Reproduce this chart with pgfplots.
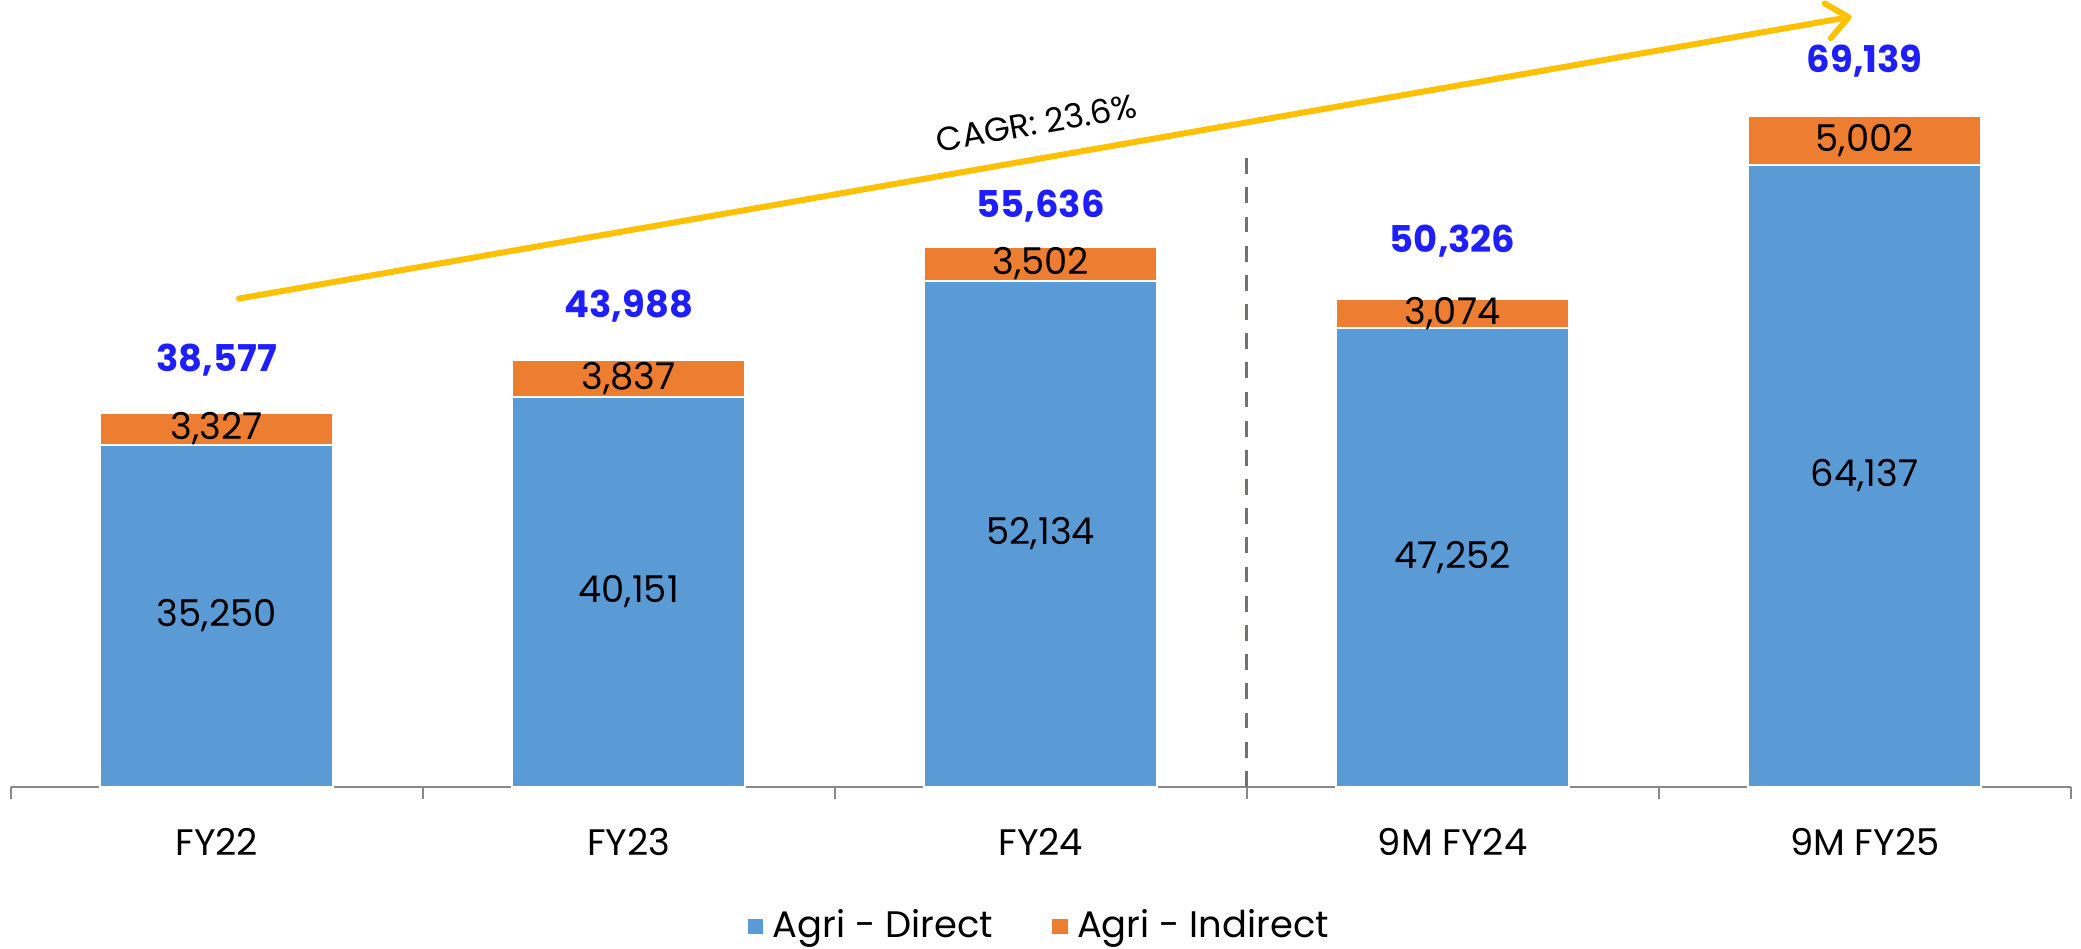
\documentclass[border=0pt]{standalone}
\usepackage{pgfplots}
\pgfplotsset{compat=1.18}
\usepackage{pgfplotstable}
\usepackage{fontspec}
\setmainfont{Poppins}
\usetikzlibrary{arrows.meta}

\definecolor{direct}{RGB}{91,155,213}
\definecolor{indirect}{RGB}{237,125,49}
\definecolor{arrowc}{RGB}{255,192,0}
\definecolor{totblue}{RGB}{30,30,255}
\definecolor{dashgray}{RGB}{118,113,113}
\definecolor{axisgray}{RGB}{137,137,137}

\pgfplotstableread{
x direct indirect
0 35250 3327
1 40151 3837
2 52134 3502
3 47252 3074
4 64137 5002
}\agri

\newcommand{\lblfont}{\fontsize{10.5}{12}\selectfont}

\begin{document}
\begin{tikzpicture}[font=\lblfont]
\begin{axis}[
  scale only axis,
  width=20.6cm, height=7.857cm,
  ybar stacked,
  bar width=2.33cm,
  xmin=-0.5, xmax=4.5,
  ymin=0, ymax=81000,
  axis x line*=bottom,
  axis y line=none,
  x axis line style={draw=axisgray, line width=0.6pt},
  xtick={0,...,4},
  xticklabels={FY22,FY23,FY24,9M FY24,9M FY25},
  major x tick style={draw=none},
  minor xtick={-0.5,0.5,1.5,2.5,3.5,4.5},
  minor x tick style={axisgray, line width=0.6pt},
  minor tick length=0.12cm,
  tick align=outside,
  xticklabel style={font=\lblfont, yshift=-4pt},
  /pgf/number format/assume math mode=true,
  clip=false,
  legend style={at={(0.5,-0.178)}, anchor=center, legend columns=2,
    draw=none, font=\lblfont, inner sep=0pt,
    nodes={inner ysep=0pt},
    /tikz/every even column/.append style={column sep=0.5cm}},
  legend image code/.code={\fill[#1] (0cm,-0.09cm) rectangle (0.18cm,0.09cm);},
  % stacked labels sit in the middle of each segment with anchor=center
  nodes near coords,
  point meta=explicit,
  every node near coord/.append style={font=\lblfont, black, anchor=center},
]

\addplot[fill=direct, draw=white, line width=0.6pt]
  table[x=x, y=direct, meta=direct] {\agri};
\addplot[fill=indirect, draw=white, line width=0.6pt]
  table[x=x, y=indirect, meta=indirect] {\agri};

\legend{Agri - Direct, Agri - Indirect}

% totals above bars
\node[totblue, font=\lblfont\bfseries] at (axis cs:0,43990) {38,577};
\node[totblue, font=\lblfont\bfseries] at (axis cs:1,49495) {43,988};
\node[totblue, font=\lblfont\bfseries] at (axis cs:2,59897) {55,636};
\node[totblue, font=\lblfont\bfseries] at (axis cs:3,56206) {50,326};
\node[totblue, font=\lblfont\bfseries] at (axis cs:4,74814) {69,139};

% separator FY vs 9M
\draw[dashgray, line width=0.95pt, dash pattern=on 4.5pt off 3.8pt]
  (axis cs:2.5,0) -- (axis cs:2.5,65000);

% CAGR arrow
\draw[arrowc, line width=1.7pt, line cap=round,
  -{Straight Barb[length=6pt,width=10pt,round]}]
  (axis cs:0.054,50320) -- (axis cs:3.968,79380);
\node[rotate=10, font=\fontsize{9.5}{11}\selectfont] at (axis cs:1.99,68450) {CAGR: 23.6\%};

\end{axis}
\path ([shift={(-0.107cm,-1.623cm)}]current axis.south west)
  rectangle ([shift={(0.103cm,0.01cm)}]current axis.north east);
\end{tikzpicture}
\end{document}
